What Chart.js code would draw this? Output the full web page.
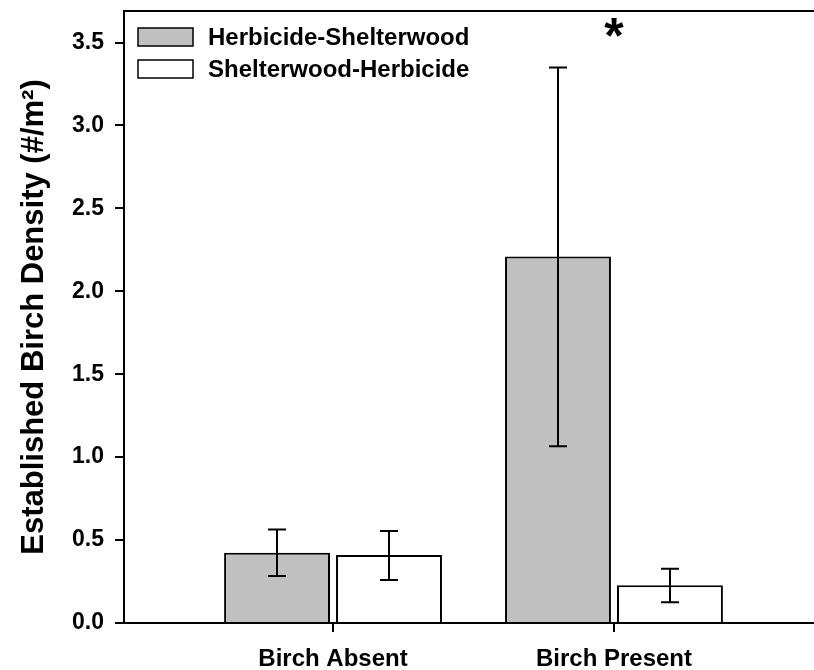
<!DOCTYPE html>
<html><head><meta charset="utf-8">
<script src="https://cdn.jsdelivr.net/npm/chart.js@4"></script>
<style>html,body{margin:0;padding:0;background:#fff}#wrap{width:814px;height:670px}</style>
</head><body><div id="wrap"><canvas id="c" width="814" height="670"></canvas></div>
<script>
const categories = ['Birch Absent', 'Birch Present'];
const categoryPositions = [1, 2];
const seriesNames = ['Herbicide-Shelterwood', 'Shelterwood-Herbicide'];
const hsMean = [0.424, 2.21];
const hsLow = [0.283, 1.066];
const hsHigh = [0.564, 3.35];
const shMean = [0.41, 0.227];
const shLow = [0.259, 0.125];
const shHigh = [0.555, 0.327];
const yTicks = [0, 0.5, 1, 1.5, 2, 2.5, 3, 3.5];
const significance = [{ pos: 2, value: 3.57, label: '*' }];

const FONT = '"Liberation Sans", Arial, sans-serif';
Chart.defaults.font.family = FONT;
Chart.defaults.color = '#000';

const errors = [[hsLow, hsHigh], [shLow, shHigh]];

const errorBarPlugin = {
  id: 'errorBars',
  afterDatasetsDraw(chart) {
    const ctx = chart.ctx, y = chart.scales.y;
    ctx.save();
    ctx.strokeStyle = '#000';
    ctx.lineWidth = 2;
    chart.data.datasets.forEach((ds, di) => {
      const meta = chart.getDatasetMeta(di);
      meta.data.forEach((bar, i) => {
        const lo = y.getPixelForValue(errors[di][0][i]);
        const hi = y.getPixelForValue(errors[di][1][i]);
        const x = Math.round(bar.x);
        ctx.beginPath();
        ctx.moveTo(x, lo); ctx.lineTo(x, hi);
        ctx.moveTo(x - 9, lo); ctx.lineTo(x + 9, lo);
        ctx.moveTo(x - 9, hi); ctx.lineTo(x + 9, hi);
        ctx.stroke();
      });
    });
    ctx.restore();
  }
};

const decorPlugin = {
  id: 'decor',
  afterDraw(chart) {
    const ctx = chart.ctx, a = chart.chartArea;
    ctx.save();
    ctx.strokeStyle = '#000';
    ctx.lineWidth = 2;
    ctx.beginPath();
    ctx.moveTo(a.left, a.top); ctx.lineTo(a.right, a.top);
    ctx.stroke();
    const boxes = [[138, 28], [138, 60]];
    chart.data.datasets.forEach((ds, i) => {
      const [bx, by] = boxes[i];
      ctx.fillStyle = ds.backgroundColor;
      ctx.fillRect(bx, by, 55, 18);
      ctx.lineWidth = 1.5;
      ctx.strokeStyle = '#000';
      ctx.strokeRect(bx, by, 55, 18);
      ctx.fillStyle = '#000';
      ctx.font = 'bold 24px ' + FONT;
      ctx.textBaseline = 'middle';
      ctx.textAlign = 'left';
      ctx.fillText(ds.label, 208, by + 10);
    });
    significance.forEach(s => {
      const x = chart.scales.x.getPixelForValue(s.pos);
      const y = chart.scales.y.getPixelForValue(s.value);
      ctx.font = 'bold 50px ' + FONT;
      ctx.textAlign = 'center';
      ctx.textBaseline = 'middle';
      ctx.fillText(s.label, x, y + 8);
    });
    ctx.restore();
  }
};

new Chart(document.getElementById('c'), {
  type: 'bar',
  data: {
    datasets: [
      {
        label: seriesNames[0],
        data: categoryPositions.map((x, i) => ({ x, y: hsMean[i] })),
        backgroundColor: '#c0c0c0',
        borderColor: '#000',
        borderWidth: 2
      },
      {
        label: seriesNames[1],
        data: categoryPositions.map((x, i) => ({ x, y: shMean[i] })),
        backgroundColor: '#ffffff',
        borderColor: '#000',
        borderWidth: 2
      }
    ]
  },
  options: {
    responsive: false,
    animation: false,
    devicePixelRatio: 1,
    categoryPercentage: 0.797,
    barPercentage: 0.946,
    layout: { padding: { top: 11, left: 0, right: 0, bottom: 0 } },
    plugins: { legend: { display: false }, tooltip: { enabled: false } },
    scales: {
      x: {
        type: 'linear',
        offset: false,
        min: 0.256,
        max: 2.712,
        afterBuildTicks: s => { s.ticks = categoryPositions.map(v => ({ value: v })); },
        afterFit: s => { s.height = 47; s.paddingLeft = 0; s.paddingRight = 0; },
        border: { color: '#000', width: 2 },
        grid: { offset: false, drawOnChartArea: false, drawTicks: true, tickLength: 9, color: '#000', lineWidth: 2 },
        ticks: {
          font: { size: 24, weight: 'bold' },
          padding: 13,
          maxRotation: 0,
          autoSkip: false,
          callback: v => categories[categoryPositions.indexOf(v)]
        }
      },
      y: {
        min: 0,
        max: 3.69,
        afterBuildTicks: s => { s.ticks = yTicks.map(v => ({ value: v })); },
        afterFit: s => { s.width = 124; s.paddingTop = 0; s.paddingBottom = 0; },
        border: { color: '#000', width: 2 },
        grid: { drawOnChartArea: false, drawTicks: true, tickLength: 9, color: '#000', lineWidth: 2 },
        ticks: {
          font: { size: 23, weight: 'bold' },
          padding: 11,
          callback: v => Number(v).toFixed(1)
        },
        title: {
          display: true,
          text: 'Established Birch Density (#/m²)',
          font: { size: 31, weight: 'bold' },
          padding: { top: 16, bottom: 0 }
        }
      }
    }
  },
  plugins: [errorBarPlugin, decorPlugin]
});
</script>
</body></html>
